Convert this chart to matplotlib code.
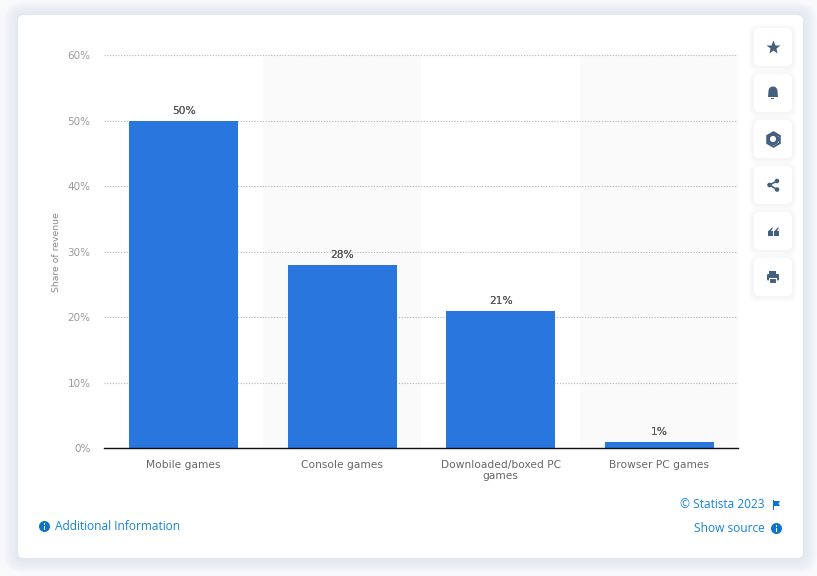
import matplotlib
matplotlib.use("Agg")
import matplotlib.pyplot as plt
from matplotlib.patches import FancyBboxPatch, Circle, Rectangle, Polygon, Wedge

categories = ["Mobile games", "Console games", "Downloaded/boxed PC\ngames", "Browser PC games"]
values = [50, 28, 21, 1]
yticks = [0, 10, 20, 30, 40, 50, 60]

W, H = 817, 576
BLUE = "#2976de"
LINK = "#1583d8"
ICON = "#45607f"

fig = plt.figure(figsize=(W / 100, H / 100), dpi=100, facecolor="#f8f9fb")

# background layer in pixel coordinates
bg = fig.add_axes([0, 0, 1, 1], zorder=0)
bg.set_xlim(0, W)
bg.set_ylim(H, 0)
bg.axis("off")


def card(x, y, w, h, r, shadow=6, alpha=0.03):
    # soft shadow, then the white box
    for i in range(shadow, 0, -1):
        bg.add_patch(FancyBboxPatch((x - i, y - i + 1), w + 2 * i, h + 2 * i,
                                    boxstyle=f"round,pad=0,rounding_size={r + i}",
                                    fc="#aab4c4", ec="none", alpha=alpha))
    bg.add_patch(FancyBboxPatch((x, y), w, h, boxstyle=f"round,pad=0,rounding_size={r}",
                                fc="white", ec="none"))


card(18, 15, 785, 543, 6, shadow=14, alpha=0.015)

# toolbar buttons
btn_y = [47, 93, 139, 185, 231, 277]
for cy in btn_y:
    card(754, cy - 19, 38, 38, 5, shadow=5, alpha=0.022)

# star
bg.plot(773, 47, marker="*", ms=10, color=ICON, mec="none")
# bell
bg.add_patch(Wedge((773, 91), 4.5, 180, 360, fc=ICON, ec="none"))
bg.add_patch(Polygon([(768.5, 91), (777.5, 91), (778, 97), (768, 97)], fc=ICON, ec="none"))
bg.add_patch(Rectangle((771.5, 98), 3, 1, fc=ICON, ec="none"))
# gear
bg.add_patch(Circle((773, 139), 4.6, fc="white", ec=ICON, lw=2.2))
bg.plot(773, 139, marker="h", ms=10.5, mfc="none", mec=ICON, mew=1.4)
# share
bg.plot([777, 769.5, 777], [181, 185, 189.5], color=ICON, lw=1.2)
for sx, sy in [(777, 181), (769.5, 185), (777, 189.5)]:
    bg.add_patch(Circle((sx, sy), 2.3, fc=ICON, ec="none"))
# quote marks
for qx in (770.5, 776.5):
    bg.add_patch(Rectangle((qx - 2.5, 231), 4.6, 4.5, fc=ICON, ec="none"))
    bg.add_patch(Polygon([(qx - 2.5, 231.5), (qx + 2, 227), (qx + 2, 229), (qx, 231.5)],
                         fc=ICON, ec="none"))
# printer
bg.add_patch(Rectangle((769.5, 271), 7, 4, fc=ICON, ec="none"))
bg.add_patch(FancyBboxPatch((767, 274), 12, 6.5, boxstyle="round,pad=0,rounding_size=1.2",
                            fc=ICON, ec="none"))
bg.add_patch(Rectangle((769.5, 278), 7, 4.5, fc=ICON, ec="white", lw=0.8))


def info(cx, cy):
    bg.add_patch(Circle((cx, cy), 5.5, fc="#0a74cf", ec="none"))
    bg.add_patch(Rectangle((cx - 0.9, cy - 1), 1.8, 4.2, fc="white", ec="none"))
    bg.add_patch(Rectangle((cx - 0.9, cy - 3.4), 1.8, 1.6, fc="white", ec="none"))


# footer
info(44.5, 526.5)
bg.text(55.5, 526.5, "Additional Information", color=LINK, fontsize=8.6, va="center",
        family="Open Sans")
bg.text(765, 504.5, "© Statista 2023", color=LINK, fontsize=8.6, va="center", ha="right",
        family="Open Sans")
bg.add_patch(Rectangle((773, 500), 1, 9.5, fc="#0a74cf", ec="none"))
bg.add_patch(Polygon([(774, 501), (780, 501), (778.5, 503.5), (780, 506), (774, 506)],
                     fc="#0a74cf", ec="none"))
bg.text(765, 528.5, "Show source", color=LINK, fontsize=8.6, va="center", ha="right",
        family="Open Sans")
info(776.5, 528.5)

# chart
ax = fig.add_axes([104.45 / W, 1 - 448.4 / H, (738 - 104) / W, (448 - 55) / H], zorder=1)
ax.patch.set_alpha(0)
x = range(len(categories))
for i in x:
    if i % 2 == 1:
        ax.axvspan(i - 0.5, i + 0.5, color="#fafafa", lw=0, zorder=0)
ax.set_axisbelow(True)
ax.grid(axis="y", color="#b5b5b5", lw=0.8, ls=(0, (1, 1.5)))
ax.bar(x, values, width=0.69, color=BLUE, zorder=2)
ax.set_xlim(-0.5, 3.5)
ax.set_ylim(0, 60)
ax.set_yticks(yticks)
ax.set_yticklabels([f"{v}%" for v in yticks], color="#9a9a9a", fontsize=7.5)
ax.set_xticks(list(x))
ax.set_xticklabels(categories, color="#666666", fontsize=7.7, linespacing=1.1)
ax.tick_params(axis="both", length=0)
ax.tick_params(axis="y", pad=10)
ax.tick_params(axis="x", pad=8.5)
for s in ("top", "left", "right"):
    ax.spines[s].set_visible(False)
ax.spines["bottom"].set_color("#111111")
ax.spines["bottom"].set_linewidth(1.0)
ax.spines["bottom"].set_zorder(5)
ax.set_ylabel("Share of revenue", color="#8a8a8a", fontsize=6.7)
ax.yaxis.set_label_coords((61 - 104) / (738 - 104), 0.5)

# drawn twice with a small offset, the labels are semi-bold in the original
for i, v in zip(x, values):
    for dx in (0, 0.2):
        ax.annotate(f"{v}%", (i, v), xytext=(dx, 3.5), textcoords="offset points", ha="center",
                    va="bottom", fontsize=7.7, color="#555555", zorder=6)

fig.savefig("out.png", dpi=100, facecolor=fig.get_facecolor())
